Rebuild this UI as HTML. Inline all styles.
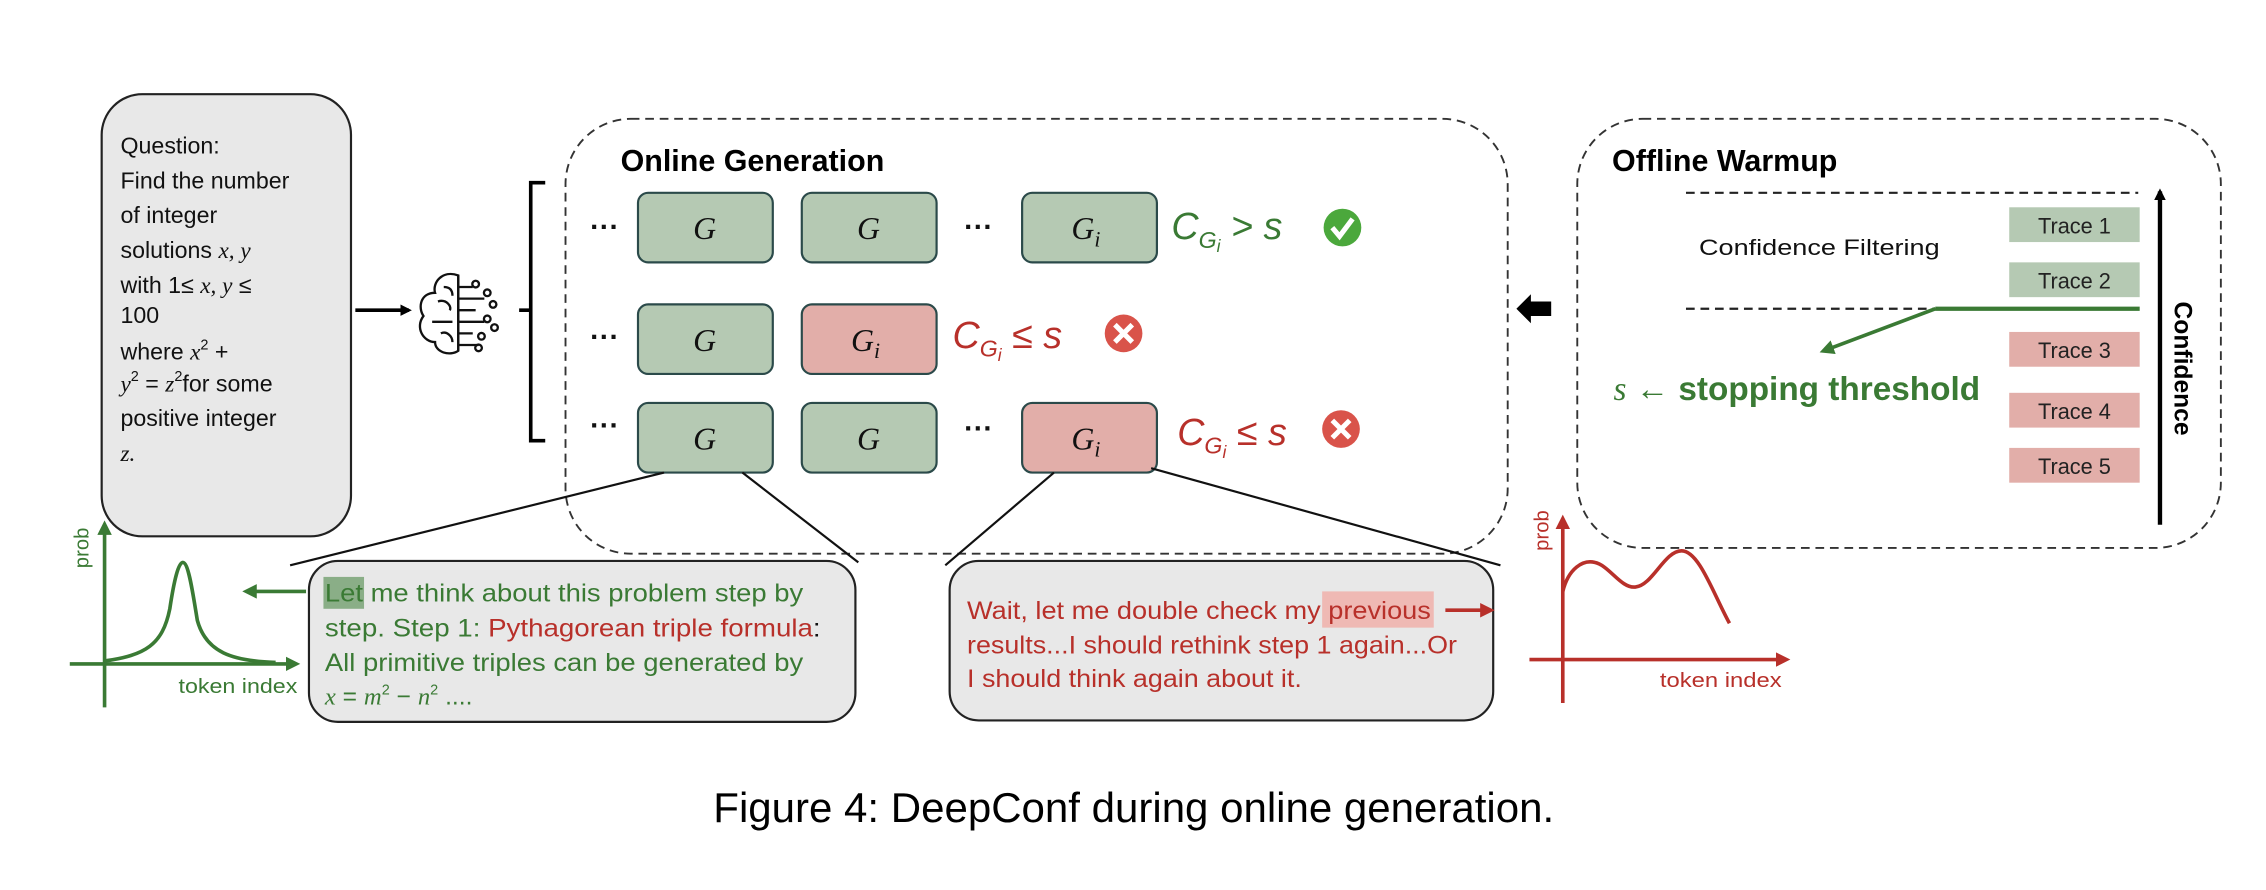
<!DOCTYPE html>
<html><head><meta charset="utf-8"><style>
html,body{margin:0;padding:0;background:#fff;}
svg{display:block;}
text{font-family:"Liberation Sans",sans-serif;}
.m{font-family:"Liberation Serif",serif;font-style:italic;}
</style></head><body>
<svg width="2266" height="890" viewBox="0 0 1563 614" xmlns="http://www.w3.org/2000/svg">
<defs>
<marker id="ab" markerWidth="8" markerHeight="8" refX="6" refY="4" orient="auto" markerUnits="userSpaceOnUse"><path d="M0,0 L8,4 L0,8 Z" fill="#000"/></marker>
<marker id="ag" markerWidth="10" markerHeight="10" refX="7" refY="5" orient="auto" markerUnits="userSpaceOnUse"><path d="M0,0 L10,5 L0,10 Z" fill="#3a7a34"/></marker>
<marker id="ar" markerWidth="10" markerHeight="10" refX="7" refY="5" orient="auto" markerUnits="userSpaceOnUse"><path d="M0,0 L10,5 L0,10 Z" fill="#b8302a"/></marker>
</defs>

<!-- Question box -->
<rect x="70" y="65" width="172" height="305" rx="28" fill="#e8e8e8" stroke="#222" stroke-width="1.5"/>
<g font-size="16" fill="#111">
<text x="83" y="106">Question:</text>
<text x="83" y="130">Find the number</text>
<text x="83" y="154">of integer</text>
<text x="83" y="178">solutions <tspan class="m">x, y</tspan></text>
<text x="83" y="202">with 1≤ <tspan class="m">x, y</tspan> ≤</text>
<text x="83" y="223" font-family="Liberation Serif">100</text>
<text x="83" y="248">where <tspan class="m">x</tspan><tspan font-size="10" dy="-7">2</tspan><tspan dy="7"> +</tspan></text>
<text x="83" y="270"><tspan class="m">y</tspan><tspan font-size="10" dy="-7">2</tspan><tspan dy="7"> = </tspan><tspan class="m">z</tspan><tspan font-size="10" dy="-7">2</tspan><tspan dy="7">for some</tspan></text>
<text x="83" y="294">positive integer</text>
<text x="83" y="318" class="m">z.</text>
</g>

<!-- arrow to brain -->
<line x1="245" y1="214" x2="282" y2="214" stroke="#000" stroke-width="2.5" marker-end="url(#ab)"/>
<!-- brain icon -->
<g fill="none" stroke="#111" stroke-width="1.6">
<path d="M316,190 C305,186 298,195 300,202 C290,202 288,212 292,218 C286,226 292,236 300,236 C300,243 310,246 316,242 Z"/>
<line x1="316" y1="190" x2="316" y2="242"/>
<path d="M302,208 C308,206 312,212 310,214 M298,222 L312,222 M304,230 C308,228 312,232 312,236 M306,198 C310,198 312,200 312,204"/>
<path d="M316,198 L326,198 M316,206 L334,206 M316,214 L328,214 M316,222 L334,222 M316,230 L326,230 M316,238 L330,238"/>
<circle cx="328" cy="196" r="2.3"/><circle cx="336" cy="202" r="2.3"/><circle cx="340" cy="210" r="2.3"/><circle cx="336" cy="220" r="2.3"/><circle cx="341" cy="226" r="2.3"/><circle cx="332" cy="232" r="2.3"/><circle cx="330" cy="240" r="2.3"/>
</g>
<!-- bracket -->
<path d="M376,126 L366,126 L366,304 L376,304 M358,214 L366,214" fill="none" stroke="#000" stroke-width="2.5"/>

<!-- Online generation box -->
<rect x="390" y="82" width="650" height="300" rx="45" fill="none" stroke="#333" stroke-width="1.3" stroke-dasharray="6,4"/>
<text x="428" y="118" font-size="21" font-weight="bold" fill="#000">Online Generation</text>

<g stroke="#2b4a4a" stroke-width="1.5">
<rect x="440" y="133" width="93" height="48" rx="7" fill="#b5c9b3"/>
<rect x="553" y="133" width="93" height="48" rx="7" fill="#b5c9b3"/>
<rect x="705" y="133" width="93" height="48" rx="7" fill="#b5c9b3"/>
<rect x="440" y="210" width="93" height="48" rx="7" fill="#b5c9b3"/>
<rect x="553" y="210" width="93" height="48" rx="7" fill="#e2aea9"/>
<rect x="440" y="278" width="93" height="48" rx="7" fill="#b5c9b3"/>
<rect x="553" y="278" width="93" height="48" rx="7" fill="#b5c9b3"/>
<rect x="705" y="278" width="93" height="48" rx="7" fill="#e2aea9"/>
</g>
<g font-size="22" fill="#111" text-anchor="middle">
<text x="486" y="165" class="m">G</text>
<text x="599" y="165" class="m">G</text>
<text x="749" y="165" class="m">G<tspan font-size="15" dy="5">i</tspan></text>
<text x="486" y="242" class="m">G</text>
<text x="597" y="242" class="m">G<tspan font-size="15" dy="5">i</tspan></text>
<text x="486" y="310" class="m">G</text>
<text x="599" y="310" class="m">G</text>
<text x="749" y="310" class="m">G<tspan font-size="15" dy="5">i</tspan></text>
</g>
<g font-size="20" font-weight="bold" fill="#111">
<text x="407" y="163">···</text><text x="665" y="163">···</text>
<text x="407" y="239">···</text>
<text x="407" y="300">···</text><text x="665" y="302">···</text>
</g>
<!-- conditions -->
<text x="808" y="165" font-size="26" font-family="Liberation Serif" font-style="italic" fill="#3a7a34">C<tspan font-size="16" dy="6">G<tspan font-size="12" dy="3">i</tspan></tspan><tspan dy="-9"> &gt; s</tspan></text>
<text x="657" y="240" font-size="26" font-family="Liberation Serif" font-style="italic" fill="#b8302a">C<tspan font-size="16" dy="6">G<tspan font-size="12" dy="3">i</tspan></tspan><tspan dy="-9"> ≤ s</tspan></text>
<text x="812" y="307" font-size="26" font-family="Liberation Serif" font-style="italic" fill="#b8302a">C<tspan font-size="16" dy="6">G<tspan font-size="12" dy="3">i</tspan></tspan><tspan dy="-9"> ≤ s</tspan></text>
<circle cx="926" cy="157" r="13" fill="#4ba83c"/>
<path d="M919,157 L924,163 L933,151" fill="none" stroke="#fff" stroke-width="3.5"/>
<circle cx="775" cy="230" r="13" fill="#d9534a"/>
<path d="M769,224 L781,236 M781,224 L769,236" stroke="#fff" stroke-width="3.5"/>
<circle cx="925" cy="296" r="13" fill="#d9534a"/>
<path d="M919,290 L931,302 M931,290 L919,302" stroke="#fff" stroke-width="3.5"/>

<!-- zoom lines -->
<g stroke="#111" stroke-width="1.5">
<line x1="458" y1="326" x2="200" y2="390"/>
<line x1="512" y1="326" x2="592" y2="388"/>
<line x1="727" y1="326" x2="652" y2="390"/>
<line x1="794" y1="323" x2="1035" y2="390"/>
</g>

<!-- block arrow -->
<path d="M1046,213 L1056,203 L1056,208 L1070,208 L1070,218 L1056,218 L1056,223 Z" fill="#000"/>

<!-- Offline warmup -->
<rect x="1088" y="82" width="444" height="296" rx="45" fill="none" stroke="#333" stroke-width="1.3" stroke-dasharray="6,4"/>
<text x="1112" y="118" font-size="21" font-weight="bold" fill="#000">Offline Warmup</text>
<line x1="1163" y1="133" x2="1475" y2="133" stroke="#222" stroke-width="1.5" stroke-dasharray="6,4"/>
<line x1="1163" y1="213" x2="1335" y2="213" stroke="#222" stroke-width="1.5" stroke-dasharray="6,4"/>
<line x1="1335" y1="213" x2="1476" y2="213" stroke="#3a7a34" stroke-width="3"/>
<line x1="1335" y1="213" x2="1258" y2="242" stroke="#3a7a34" stroke-width="2.5" marker-end="url(#ag)"/>
<text x="1172" y="176" font-size="15" fill="#111" textLength="166" lengthAdjust="spacingAndGlyphs">Confidence Filtering</text>
<g font-size="15" fill="#222" text-anchor="middle">
<rect x="1386" y="143" width="90" height="24" fill="#b5c9b3"/><text x="1431" y="161">Trace 1</text>
<rect x="1386" y="181" width="90" height="24" fill="#b5c9b3"/><text x="1431" y="199">Trace 2</text>
<rect x="1386" y="229" width="90" height="24" fill="#e2aea9"/><text x="1431" y="247">Trace 3</text>
<rect x="1386" y="271" width="90" height="24" fill="#e2aea9"/><text x="1431" y="289">Trace 4</text>
<rect x="1386" y="309" width="90" height="24" fill="#e2aea9"/><text x="1431" y="327">Trace 5</text>
</g>
<line x1="1490" y1="362" x2="1490" y2="132" stroke="#000" stroke-width="3" marker-end="url(#ab)"/>
<text transform="translate(1500,208) rotate(90)" font-size="17" font-weight="bold" fill="#000">Confidence</text>
<text x="1113" y="276" font-size="23" font-weight="bold" fill="#3a7a34"><tspan font-family="Liberation Serif" font-style="italic" font-weight="normal">s</tspan><tspan font-weight="normal"> ← </tspan>stopping threshold</text>

<!-- left plot -->
<g stroke="#3a7a34" stroke-width="2.5" fill="none">
<line x1="72" y1="488" x2="72" y2="362" marker-end="url(#ag)"/>
<line x1="48" y1="458" x2="204" y2="458" marker-end="url(#ag)"/>
<path d="M72,456 C100,452 112,445 117,420 C120,400 123,388 126,388 C130,388 133,410 136,428 C142,450 160,456 190,457"/>
<line x1="211" y1="408" x2="170" y2="408" marker-end="url(#ag)"/>
</g>
<text transform="translate(61,392) rotate(-90)" font-size="14" fill="#3a7a34">prob</text>
<text x="123" y="478" font-size="14" fill="#3a7a34" textLength="82" lengthAdjust="spacingAndGlyphs">token index</text>

<!-- green text box -->
<rect x="213" y="387" width="377" height="111" rx="20" fill="#e8e8e8" stroke="#222" stroke-width="1.5"/>
<rect x="223" y="398" width="28" height="22" fill="#8aae87"/>
<g font-size="17" fill="#3a7a34">
<text x="224" y="415" textLength="330" lengthAdjust="spacingAndGlyphs">Let me think about this problem step by</text>
<text x="224" y="439" textLength="342" lengthAdjust="spacingAndGlyphs">step. Step 1: <tspan fill="#b8302a">Pythagorean triple formula</tspan><tspan fill="#111">:</tspan></text>
<text x="224" y="463" textLength="330" lengthAdjust="spacingAndGlyphs">All primitive triples can be generated by</text>
<text x="224" y="486"><tspan class="m">x</tspan> = <tspan class="m">m</tspan><tspan font-size="10" dy="-7">2</tspan><tspan dy="7"> − </tspan><tspan class="m">n</tspan><tspan font-size="10" dy="-7">2</tspan><tspan dy="7"> ....</tspan></text>
</g>

<!-- red text box -->
<rect x="655" y="387" width="375" height="110" rx="20" fill="#e8e8e8" stroke="#222" stroke-width="1.5"/>
<rect x="912" y="408" width="77" height="25" fill="#efb9b4"/>
<g font-size="17" fill="#b8302a">
<text x="667" y="427" textLength="320" lengthAdjust="spacingAndGlyphs">Wait, let me double check my previous</text>
<text x="667" y="451" textLength="338" lengthAdjust="spacingAndGlyphs">results...I should rethink step 1 again...Or</text>
<text x="667" y="474" textLength="231" lengthAdjust="spacingAndGlyphs">I should think again about it.</text>
</g>
<line x1="997" y1="421" x2="1028" y2="421" stroke="#b8302a" stroke-width="2.5" marker-end="url(#ar)"/>

<!-- right plot -->
<g stroke="#b8302a" stroke-width="2.5" fill="none">
<line x1="1078" y1="485" x2="1078" y2="358" marker-end="url(#ar)"/>
<line x1="1055" y1="455" x2="1232" y2="455" marker-end="url(#ar)"/>
<path d="M1078,408 C1082,392 1092,386 1100,388 C1110,390 1118,406 1128,405 C1140,404 1148,380 1160,380 C1172,380 1182,410 1193,430"/>
</g>
<text transform="translate(1068,380) rotate(-90)" font-size="14" fill="#b8302a">prob</text>
<text x="1145" y="474" font-size="14" fill="#b8302a" textLength="84" lengthAdjust="spacingAndGlyphs">token index</text>

<!-- caption -->
<text x="782" y="567" font-size="29" font-family="Liberation Serif" text-anchor="middle" fill="#000">Figure 4: DeepConf during online generation.</text>
</svg>
</body></html>
